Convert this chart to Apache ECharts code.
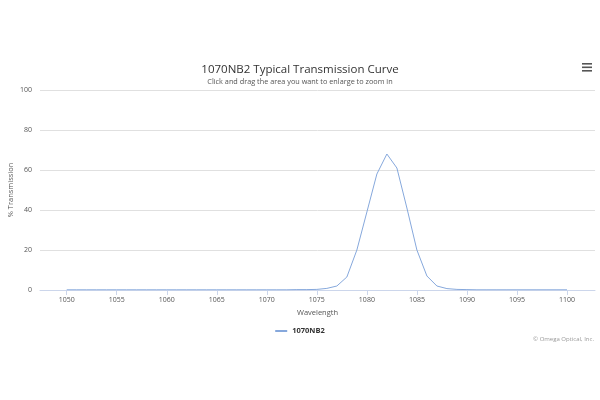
<!DOCTYPE html>
<html><head><meta charset="utf-8">
<script src="https://cdn.jsdelivr.net/npm/echarts@6/dist/echarts.min.js"></script>
<style>html,body{margin:0;padding:0;background:#fff}#c{width:600px;height:400px}</style>
</head><body><div id="c"></div>
<script>
const wavelengths = [1050,1051,1052,1053,1054,1055,1056,1057,1058,1059,1060,1061,1062,1063,1064,1065,1066,1067,1068,1069,1070,1071,1072,1073,1074,1075,1076,1077,1078,1079,1080,1081,1082,1083,1084,1085,1086,1087,1088,1089,1090,1091,1092,1093,1094,1095,1096,1097,1098,1099,1100];
const transmission = [0.1,0.1,0.1,0.1,0.1,0.1,0.1,0.1,0.1,0.1,0.1,0.1,0.1,0.1,0.1,0.1,0.1,0.1,0.1,0.1,0.1,0.1,0.1,0.2,0.2,0.3,0.8,2,6.5,20,39,58,68,61,41,20,7,2,0.7,0.3,0.2,0.1,0.1,0.1,0.1,0.1,0.1,0.1,0.1,0.1,0.1];
const xTicks = [1050,1055,1060,1065,1070,1075,1080,1085,1090,1095,1100];
const seriesName = '1070NB2';

const chart = echarts.init(document.getElementById('c'));
chart.setOption({
  animation: false,
  title: {
    text: '1070NB2 Typical Transmission Curve',
    subtext: 'Click and drag the area you want to enlarge to zoom in',
    left: 'center', top: 59, itemGap: 2,
    textStyle: {fontSize: 11.5, fontWeight: 'normal', color: '#333', fontFamily: 'Open Sans'},
    subtextStyle: {fontSize: 7.3, color: '#555', fontFamily: 'Open Sans'}
  },
  legend: {
    bottom: 60, left: 'center',
    itemWidth: 12, itemHeight: 2, icon: 'rect',
    textStyle: {fontSize: 7.5, fontWeight: 'bold', color: '#333', fontFamily: 'Open Sans'},
    data: [seriesName]
  },
  grid: {left: 40, right: 5, top: 90, bottom: 110, outerBoundsMode: 'none', containLabel: false},
  xAxis: {
    type: 'value', min: 1047.33, max: 1102.8,
    name: 'Wavelength', nameLocation: 'middle', nameGap: 19, nameMoveOverlap: false,
    nameTextStyle: {fontSize: 7.5, color: '#555', fontFamily: 'Open Sans'},
    axisLine: {lineStyle: {color: '#ccd6eb'}},
    axisTick: {show: true, customValues: xTicks, length: 5, lineStyle: {color: '#ccd6eb'}},
    axisLabel: {customValues: xTicks, fontSize: 7, color: '#555', margin: 6, fontFamily: 'Open Sans', formatter: v => String(v)},
    splitLine: {show: false}
  },
  yAxis: {
    type: 'value', min: 0, max: 100, interval: 20,
    name: '% Transmission', nameLocation: 'middle', nameGap: 25, nameMoveOverlap: false,
    nameTextStyle: {fontSize: 7.5, color: '#555', fontFamily: 'Open Sans'},
    axisLine: {show: false}, axisTick: {show: false},
    axisLabel: {fontSize: 7, color: '#555', margin: 8, fontFamily: 'Open Sans'},
    splitLine: {lineStyle: {color: '#e0e0e0', width: 1}}
  },
  series: [{
    name: seriesName, type: 'line', symbol: 'none',
    data: wavelengths.map((w, i) => [w, transmission[i]]),
    lineStyle: {color: '#86a8dc', width: 1},
    itemStyle: {color: '#86a8dc'}
  }],
  graphic: [
    {type: 'text', right: 6, bottom: 58, style: {text: '© Omega Optical, Inc.', fontSize: 6, fill: '#999', fontFamily: 'Open Sans'}},
    {type: 'rect', left: 582, top: 63, shape: {width: 10, height: 1.6}, style: {fill: '#555'}},
    {type: 'rect', left: 582, top: 66.5, shape: {width: 10, height: 1.6}, style: {fill: '#555'}},
    {type: 'rect', left: 582, top: 70, shape: {width: 10, height: 1.6}, style: {fill: '#555'}}
  ]
});
</script>
</body></html>
